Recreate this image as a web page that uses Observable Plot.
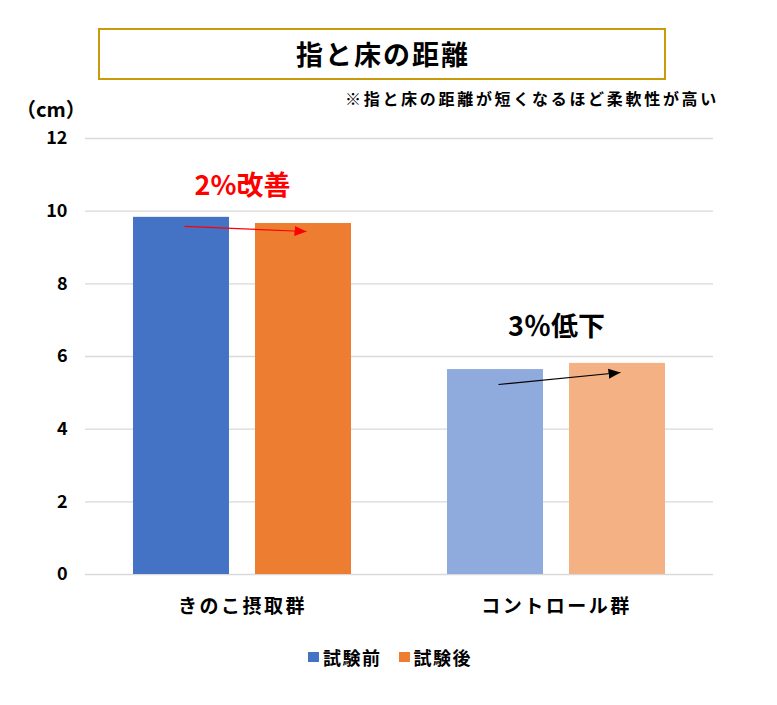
<!DOCTYPE html>
<html>
<head>
<meta charset="utf-8">
<script src="https://cdn.jsdelivr.net/npm/d3@7"></script>
<script src="https://cdn.jsdelivr.net/npm/@observablehq/plot@0.6"></script>
<style>
  body { margin: 0; background: #fff; font-family: "Noto Sans CJK JP", sans-serif; }
  #wrap { position: relative; width: 777px; height: 705px; overflow: hidden; }
  #chart { position: absolute; left: 0; top: 0; }
  #title { position: absolute; left: 98px; top: 28px; width: 568px; height: 52px; box-sizing: border-box;
           border: 2px solid #C89B0A; text-align: center; font-size: 27px; font-weight: bold; line-height: 47px;
           letter-spacing: 2px; padding-left: 2px; color: #000; }
  #subtitle { position: absolute; right: 58px; top: 88px; font-size: 16px; font-weight: bold; color: #000;
              white-space: nowrap; letter-spacing: 2.7px; line-height: 20px; }
  #unit { position: absolute; left: 16px; top: 97px; font-size: 20px; font-weight: bold; color: #000; line-height: 24px; }
  #legend { position: absolute; left: 308px; top: 646px; display: flex; gap: 17px;
            font-size: 18px; font-weight: bold; color: #000; letter-spacing: 1.5px; line-height: 22px; }
  #legend span.item { display: flex; align-items: center; gap: 4px; }
  #legend span.sw { display: inline-block; width: 11px; height: 10px; }
</style>
</head>
<body>
<div id="wrap">
  <div id="chart"></div>
  <div id="title"></div>
  <div id="subtitle"></div>
  <div id="unit"></div>
  <div id="legend"></div>
</div>
<script>
// ---- data ----
const titleText = "指と床の距離";
const subtitleText = "※指と床の距離が短くなるほど柔軟性が高い";
const unitText = "（cm）";
const groups = ["きのこ摂取群", "コントロール群"];
const phases = ["試験前", "試験後"];
const mushroomValues = [9.83, 9.66];
const controlValues = [5.64, 5.81];
const yTicks = [0, 2, 4, 6, 8, 10, 12];
const changeLabels = ["2%改善", "3％低下"];
const changeLabelY = [10.68, 6.8];
const arrowFrom = [9.58, 5.23];
const arrowTo = [9.44, 5.56];

// ---- styles ----
const barColors = [["#4472C4", "#ED7D31"], ["#8FAADC", "#F4B183"]];
const annotColors = ["#FF0000", "#000000"];
const legendColors = ["#4472C4", "#ED7D31"];
const font = "'Noto Sans CJK JP', sans-serif";

const seriesValues = [mushroomValues, controlValues];
const bars = groups.flatMap((g, i) => phases.map((p, j) => ({group: g, phase: p, value: seriesValues[i][j], color: barColors[i][j]})));
const annots = groups.map((g, i) => ({group: g, label: changeLabels[i], y: changeLabelY[i], color: annotColors[i]}));
const arrows = groups.map((g, i) => ({group: g, from: arrowFrom[i], to: arrowTo[i], color: annotColors[i], p1: phases[0], p2: phases[1]}));

const chart = Plot.plot({
  width: 777,
  height: 705,
  marginTop: 138,
  marginBottom: 131,
  marginLeft: 85,
  marginRight: 64,
  style: {fontFamily: font, fontSize: "15px", color: "#000", background: "transparent"},
  fx: {domain: groups, padding: 0, label: null, axis: null},
  x: {domain: phases, paddingInner: 0.213, paddingOuter: 0.393, axis: null},
  y: {domain: [0, 12], axis: null},
  color: {type: "identity"},
  marks: [
    Plot.ruleY(yTicks, {stroke: "#D9D9D9", strokeWidth: 1.3}),
    Plot.barY(bars, {fx: "group", x: "phase", y: "value", fill: "color"}),
    Plot.axisY({ticks: yTicks, tickSize: 0, tickPadding: 18, fontSize: 18, fontWeight: "bold", label: null}),
    Plot.axisFx({anchor: "bottom", tickSize: 0, tickPadding: 25, fontSize: 19, fontWeight: "bold", label: null}),
    Plot.link(arrows, {fx: "group", x1: "p1", x2: "p2", y1: "from", y2: "to", stroke: "color", strokeWidth: 1.2, markerEnd: "arrow", dx: 3}),
    Plot.text(annots, {fx: "group", y: "y", text: "label", fill: "color", fontSize: 27, fontWeight: "bold"})
  ]
});

// wider letter spacing on the group labels, like the original
chart.querySelectorAll("g[aria-label='fx-axis tick label'] text").forEach(t => {
  t.style.letterSpacing = "2.5px";
});

// filled triangular arrowheads like the original
chart.querySelectorAll("marker").forEach(m => {
  const c = m.getAttribute("stroke");
  m.setAttribute("viewBox", "-12 -6 12 12");
  m.setAttribute("markerWidth", "10");
  m.setAttribute("markerHeight", "10");
  m.setAttribute("fill", c);
  m.setAttribute("stroke", "none");
  const p = m.querySelector("path");
  if (p) p.setAttribute("d", "M-12,-5L0,0L-12,5Z");
});

document.getElementById("chart").append(chart);
document.getElementById("title").textContent = titleText;
document.getElementById("subtitle").textContent = subtitleText;
document.getElementById("unit").textContent = unitText;
const legend = document.getElementById("legend");
phases.forEach((p, i) => {
  const item = document.createElement("span");
  item.className = "item";
  const sw = document.createElement("span");
  sw.className = "sw";
  sw.style.background = legendColors[i];
  const t = document.createElement("span");
  t.textContent = p;
  item.append(sw, t);
  legend.append(item);
});
</script>
</body>
</html>
